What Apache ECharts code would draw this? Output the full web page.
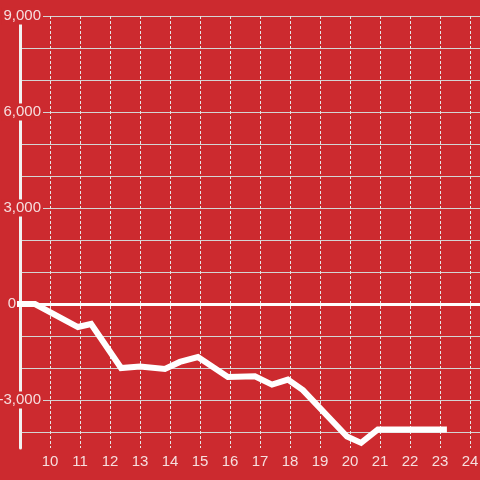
<!DOCTYPE html>
<html>
<head>
<meta charset="utf-8">
<script src="https://cdn.jsdelivr.net/npm/echarts@6/dist/echarts.min.js"></script>
<style>
html,body{margin:0;padding:0;background:#cc2a2f;}
#c{width:480px;height:480px;}
</style>
</head>
<body>
<div id="c"></div>
<script>
// data
const xHours = [8.9, 9.5, 10.93, 11.37, 12.37, 13.0, 13.83, 14.33, 14.93, 15.93, 16.83, 17.4, 17.93, 18.43, 19.9, 20.37, 20.93, 23.23];
const yValues = [0, 0, -720, -625, -2000, -1950, -2030, -1810, -1660, -2280, -2260, -2520, -2360, -2690, -4140, -4340, -3920, -3920];
const yLabelValues = [-3000, 0, 3000, 6000, 9000];
const xLabelValues = [10, 11, 12, 13, 14, 15, 16, 17, 18, 19, 20, 21, 22, 23, 24];

const bg = '#cc2a2f';
const txt = '#f6dede';
const chart = echarts.init(document.getElementById('c'), null, {renderer: 'canvas'});
const points = xHours.map((x, i) => [x, yValues[i]]);

chart.setOption({
  animation: false,
  backgroundColor: bg,
  grid: {left: 20, right: -20, top: 16, bottom: 32, containLabel: false, outerBoundsMode: 'none'},
  xAxis: {
    type: 'value', min: 9, max: 25, interval: 1,
    axisLine: {show: false}, axisTick: {show: false},
    axisLabel: {
      color: txt, fontSize: 15, fontFamily: 'Liberation Sans', margin: 6,
      formatter: v => xLabelValues.indexOf(v) >= 0 ? String(v) : ''
    },
    splitLine: {show: true, lineStyle: {color: '#e6e6e6', width: 1, type: [3, 2]}}
  },
  yAxis: {
    type: 'value', min: -4500, max: 9000, interval: 500,
    axisLine: {show: true, onZero: false, lineStyle: {color: '#f2f2f2', width: 3}},
    axisTick: {show: false},
    axisLabel: {
      margin: -23,
      formatter: v => {
        if (yLabelValues.indexOf(v) < 0) return '';
        if (v === 0) return '{z|0}';
        return '{a|' + echarts.format.addCommas(v) + '}';
      },
      rich: {
        a: {color: txt, fontSize: 15, fontFamily: 'Liberation Sans', backgroundColor: bg, padding: [1, 2, 1, 2], lineHeight: 16},
        z: {color: txt, fontSize: 15, fontFamily: 'Liberation Sans', padding: [1, 27, 1, 0], lineHeight: 16}
      }
    },
    splitLine: {show: true, lineStyle: {color: ['rgba(0,0,0,0)', '#d4d4d4'], width: 1, type: 'solid'}}
  },
  series: [{
    type: 'line',
    data: points,
    symbol: 'none',
    clip: false,
    lineStyle: {color: '#ffffff', width: 6, cap: 'butt', join: 'miter'},
    markLine: {
      silent: true,
      symbol: ['none', 'none'],
      label: {show: false},
      lineStyle: {color: '#ffffff', width: 3, type: 'solid'},
      data: [{yAxis: 0}]
    }
  }]
});
</script>
</body>
</html>
